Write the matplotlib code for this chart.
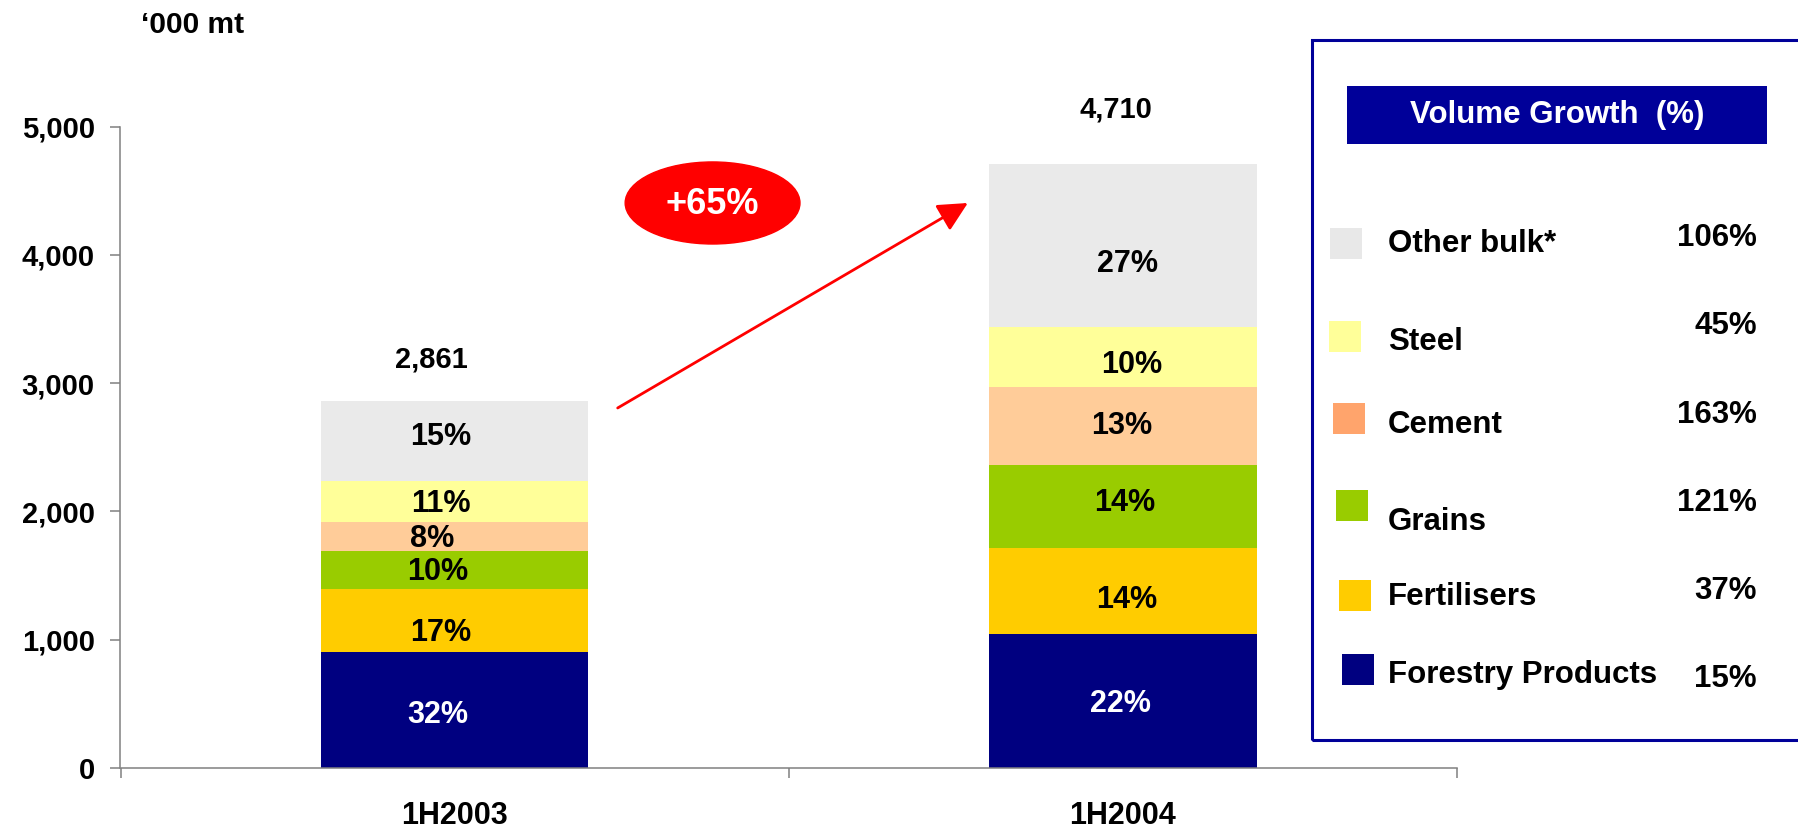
import matplotlib.pyplot as plt
from matplotlib.patches import Ellipse, Rectangle

plt.rcParams["font.family"] = ["Liberation Sans", "DejaVu Sans"]
plt.rcParams["font.weight"] = "bold"

# volumes in '000 mt, stacked bottom to top
periods = ["1H2003", "1H2004"]
cargo = ["Forestry Products", "Fertilisers", "Grains", "Cement", "Steel", "Other bulk*"]
vol_2003 = [905, 489, 296, 227, 319, 625]
vol_2004 = [1046, 665, 652, 609, 462, 1276]
share_2003 = ["32%", "17%", "10%", "8%", "11%", "15%"]
share_2004 = ["22%", "14%", "14%", "13%", "10%", "27%"]
growth = ["15%", "37%", "121%", "163%", "45%", "106%"]
yticks = [0, 1000, 2000, 3000, 4000, 5000]
total_growth = "+65%"

bar_colors = ["#000080", "#FFCC00", "#99CC00", "#FFCC99", "#FFFF99", "#EAEAEA"]
key_colors = ["#000080", "#FFCC00", "#99CC00", "#FFA46C", "#FFFF99", "#E8E8E8"]
axis_grey = "#808080"
box_blue = "#000099"

# hand placement of the segment labels (points, dx/dy from segment centre)
nudge = [
    [(-12, -4), (-10, -9), (-12, -1.5), (-16, -1.5), (-10, -1.5), (-10, 3)],
    [(-1.5, -2.5), (3, -6.5), (1, 2.5), (-1, 0), (6, -5.5), (3, -13)],
]
total_offsets = [(-17, 30), (-5, 39)]

W, H = 1799, 831


def fx(px):
    return px / W


def fy(py):
    return 1 - py / H


fig = plt.figure(figsize=(W / 100, H / 100), dpi=100)
ax = fig.add_axes([fx(120.5), fy(767.7), fx(1457 - 120.5), (767.7 - 126.7) / H])

volumes = [vol_2003, vol_2004]
shares = [share_2003, share_2004]
x = list(range(len(periods)))
bottoms = [0, 0]
for i, name in enumerate(cargo):
    vals = [v[i] for v in volumes]
    bars = ax.bar(x, vals, width=0.4, bottom=bottoms, color=bar_colors[i], linewidth=0)
    txt_color = "white" if i == 0 else "black"
    for j, b in enumerate(bars):
        ax.annotate(shares[j][i], (b.get_x() + b.get_width() / 2, bottoms[j] + vals[j] / 2),
                    xytext=nudge[j][i], textcoords="offset points",
                    ha="center", va="center", fontsize=22, color=txt_color)
    bottoms = [b + v for b, v in zip(bottoms, vals)]

# totals above the bars
for j, tot in enumerate(bottoms):
    ax.annotate(f"{tot:,}", (j, tot), xytext=total_offsets[j], textcoords="offset points",
                ha="center", va="center", fontsize=21)

ax.set_xlim(-0.5, 1.5)
ax.set_ylim(0, 5000)
ax.set_yticks(yticks)
ax.set_yticklabels([f"{t:,}" for t in yticks], fontsize=21)
ax.set_xticks(x)
ax.set_xticklabels(periods, fontsize=22)
ax.set_xticks([-0.5, 0.5, 1.5], minor=True)
ax.tick_params(axis="x", which="major", length=0, pad=24)
ax.tick_params(axis="x", which="minor", length=7.5, width=1.1, color=axis_grey, direction="out")
ax.tick_params(axis="y", length=7.5, width=1.1, color=axis_grey, direction="out", pad=11)
for side in ["top", "right"]:
    ax.spines[side].set_visible(False)
for side in ["left", "bottom"]:
    ax.spines[side].set_color(axis_grey)
    ax.spines[side].set_linewidth(1.1)

# growth arrow and badge
ax.annotate("", xy=(0.768, 4405), xytext=(0.244, 2806),
            arrowprops=dict(arrowstyle="-|>,head_length=0.5,head_width=0.25", color="red",
                            lw=2, mutation_scale=36, shrinkA=0, shrinkB=0))
ax.add_patch(Ellipse((0.386, 4405), 0.2616, 640, color="red", clip_on=False))
ax.text(0.386, 4395, total_growth, ha="center", va="center", fontsize=26, color="white")

fig.text(fx(141), fy(25), "\u2018000 mt", ha="left", va="center", fontsize=21.5)

# growth key box on the right
fig.add_artist(Rectangle((fx(1311.7), fy(740)), fx(1830 - 1311.7), (740 - 40) / H,
                         fill=False, edgecolor=box_blue, lw=2.2, transform=fig.transFigure))
fig.add_artist(Rectangle((fx(1347), fy(143.5)), fx(420), 57.5 / H,
                         facecolor=box_blue, edgecolor="none", transform=fig.transFigure))
fig.text(fx(1557), fy(115), "Volume Growth  (%)", ha="center", va="center",
         fontsize=22.5, color="white")

swatch_left = [1342, 1339, 1336, 1333, 1329, 1330]
swatch_top = [654, 580, 490, 403, 321, 228]
label_mid = [672, 594, 518.5, 421.5, 339, 240.5]
growth_mid = [675.7, 587.4, 499.7, 411.4, 322.7, 234.5]
for i, name in enumerate(cargo):
    fig.add_artist(Rectangle((fx(swatch_left[i]), fy(swatch_top[i] + 31)), fx(32), 31 / H,
                             facecolor=key_colors[i], edgecolor="none",
                             transform=fig.transFigure))
    fig.text(fx(1388), fy(label_mid[i] + 11.3), name, ha="left", va="baseline", fontsize=22.5)
    fig.text(fx(1757), fy(growth_mid[i] + 11.3), growth[i], ha="right", va="baseline",
             fontsize=22.5)

fig.savefig("out.png", dpi=100)
